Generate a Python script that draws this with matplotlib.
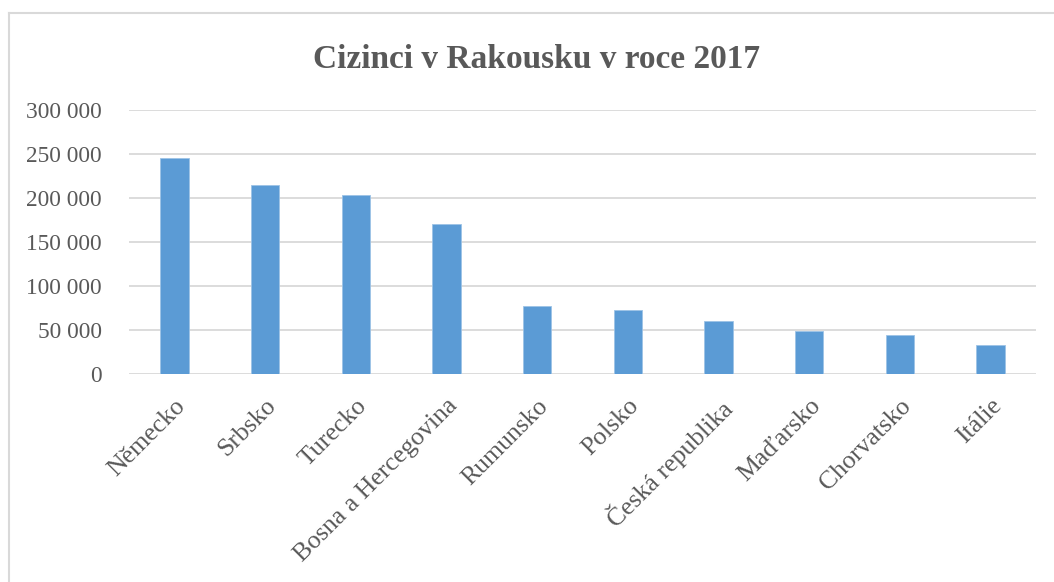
import matplotlib
matplotlib.use("Agg")
import matplotlib.pyplot as plt
from matplotlib.lines import Line2D
from matplotlib.ticker import FuncFormatter

categories = ["Německo", "Srbsko", "Turecko", "Bosna a Hercegovina", "Rumunsko",
              "Polsko", "Česká republika", "Maďarsko", "Chorvatsko", "Itálie"]
values = [246000, 215000, 203500, 170800, 77000, 72400, 60600, 48900, 43900, 32600]
yticks = [0, 50000, 100000, 150000, 200000, 250000, 300000]
title = "Cizinci v Rakousku v roce 2017"

FONT = ["Liberation Serif", "DejaVu Serif"]
TXT = "#595959"
GRID = "#d9d9d9"
BAR = "#5b9bd5"

plt.rcParams["font.family"] = FONT

W, H = 1054, 582
fig = plt.figure(figsize=(W / 100, H / 100), dpi=100)
ax = fig.add_axes([129 / W, 1 - 374 / H, (1036 - 129) / W, (374 - 110) / H])

x = list(range(len(categories)))
ax.bar(x, values, width=0.314, color=BAR, edgecolor="#9dc3e6", linewidth=0.6, zorder=3)

ax.set_xlim(-0.5, len(categories) - 0.5)
ax.set_ylim(0, 300000)
ax.set_yticks(yticks)
ax.yaxis.set_major_formatter(FuncFormatter(lambda v, p: f"{int(v):,}".replace(",", " ")))
ax.grid(axis="y", color=GRID, linewidth=1.3, zorder=0)
for s in ax.spines.values():
    s.set_visible(False)
ax.tick_params(axis="both", length=0, colors=TXT)
ax.tick_params(axis="y", pad=19.5, labelsize=16.8)
ax.set_xticks(x)
ax.set_xticklabels(categories, rotation=45, ha="right", rotation_mode="anchor", fontsize=18.5)
ax.tick_params(axis="x", pad=15)

fig.text(537 / W, 1 - 60 / H, title, ha="center", va="center", fontsize=24,
         fontweight="bold", color=TXT)

fig.add_artist(Line2D([9 / W, 9 / W], [0, 1 - 13 / H], color=GRID, linewidth=1.5,
                      transform=fig.transFigure))
fig.add_artist(Line2D([9 / W, 1], [1 - 13 / H, 1 - 13 / H], color=GRID, linewidth=1.5,
                      transform=fig.transFigure))

fig.savefig("out.png", dpi=100, facecolor="white")
